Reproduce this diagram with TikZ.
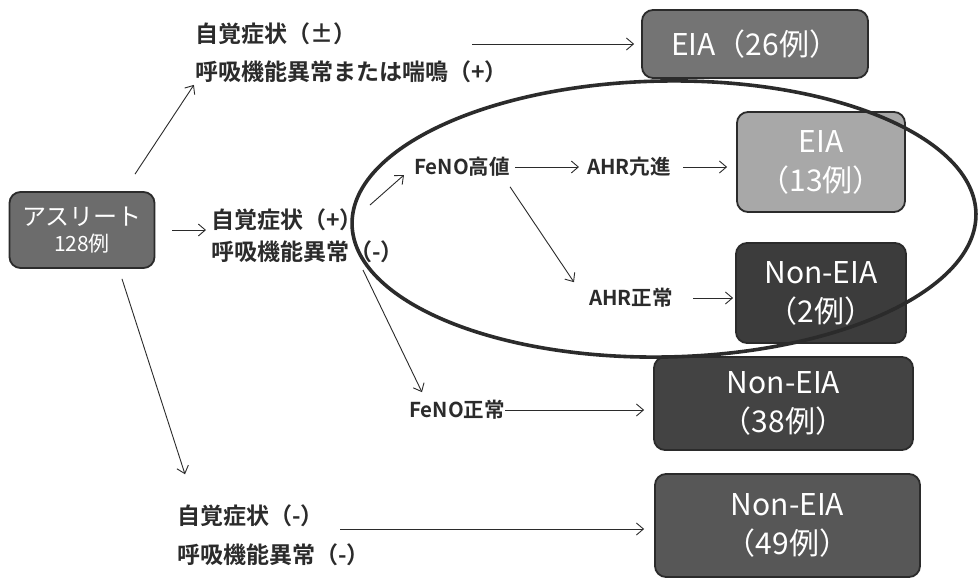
\documentclass[tikz,border=0pt]{standalone}
\usepackage{fontspec}
\setmainfont{Noto Sans CJK JP}[BoldFont={Noto Sans CJK JP Bold}]
\usetikzlibrary{arrows.meta}
\definecolor{ink}{HTML}{2B2B2B}
\definecolor{gath}{HTML}{6C6C6C}
\definecolor{gea}{HTML}{747474}
\definecolor{geb}{HTML}{A8A8A8}
\definecolor{gna}{HTML}{3C3C3C}
\definecolor{gnb}{HTML}{434343}
\definecolor{gnc}{HTML}{575757}
\begin{document}
\begin{tikzpicture}[x=1pt,y=-1pt,
  box/.style={draw=ink, line width=1.8pt, rounded corners=11pt, text=white, align=center, inner sep=0pt, font=\fontsize{30}{39}\selectfont},
  lbl/.style={text=ink, align=left, inner sep=0pt, anchor=west, font=\bfseries\fontsize{23}{40}\selectfont},
  sml/.style={text=ink, inner sep=0pt, anchor=center, font=\bfseries\fontsize{20.5}{24}\selectfont},
  arr/.style={draw=ink, line width=0.9pt, -{Straight Barb[length=7pt,width=12pt]}},
  ring/.style={draw=ink, line width=3.6pt}
]
\fill[white] (0,0) rectangle (978,579);
\useasboundingbox (0,0) rectangle (978,579);

% boxes
\node[box, fill=gath, minimum width=145pt, minimum height=76pt, font=\fontsize{24}{26}\selectfont] (ath) at (82,230) {アスリート\\{\fontsize{21}{26}\selectfont 128例}};
\node[box, fill=gea, minimum width=226pt, minimum height=68pt] (e26) at (755,44) {EIA（26例）};
\node[box, fill=geb, minimum width=168pt, minimum height=100pt] (e13) at (821,162) {EIA\\（13例）};
\node[box, fill=gna, minimum width=170pt, minimum height=100pt] (n2) at (821,293) {Non-EIA\\（2例）};
\node[box, fill=gnb, minimum width=259pt, minimum height=93pt] (n38) at (783.5,403.5) {Non-EIA\\（38例）};
\node[box, fill=gnc, minimum width=265pt, minimum height=103pt] (n49) at (787.5,525.5) {Non-EIA\\（49例）};

% labels
\node[lbl, font=\bfseries\fontsize{23}{38}\selectfont] (top) at (195,53) {自覚症状（±）\\呼吸機能異常または喘鳴（+）};
\node[lbl, font=\bfseries\fontsize{23}{32}\selectfont] (mid) at (211,236) {自覚症状（+）\\呼吸機能異常（-）};
\node[lbl, font=\bfseries\fontsize{23}{39}\selectfont] (bot) at (177,535) {自覚症状（-）\\呼吸機能異常（-）};
\node[sml] (feh) at (462,167) {FeNO高値};
\node[sml] (ahrp) at (629,167) {AHR亢進};
\node[sml] (ahrn) at (631,298) {AHR正常};
\node[sml] (fen) at (457,410) {FeNO正常};

% connectors
\coordinate (t1) at (472,44);
\coordinate (m1) at (370,205);
\coordinate (m2) at (363,270);
\coordinate (b1) at (340,529);
\draw[arr, shorten >=2pt] ([shift={(53,-17)}]ath.north) -- (top.south west);
\draw[arr, shorten <=17pt, shorten >=5pt] (ath.east) -- (ath.east -| mid.west);
\draw[arr] ([shift={(40,10)}]ath.south) -- ([shift={(8,-30)}]bot.north west);
\draw[arr, shorten >=7pt] (t1) -- (t1 -| e26.west);
\draw[arr] (m1) -- ([shift={(-10,8)}]feh.west);
\draw[arr, shorten <=5pt, shorten >=8pt] (feh.east) -- (ahrp.west);
\draw[arr] ([shift={(0,10)}]feh.south east) -- ([shift={(-15,-6)}]ahrn.north west);
\draw[arr, shorten <=12pt, shorten >=9pt] (ahrp.east) -- (ahrp.east -| e13.west);
\draw[arr, shorten <=20pt, shorten >=2pt] (ahrn.east) -- (ahrn.east -| n2.west);
\draw[arr] (m2) -- ([shift={(13,-8)}]fen.north west);
\draw[arr, shorten >=9pt] (fen.east) -- (fen.east -| n38.west);
\draw[arr, shorten >=10pt] (b1) -- (b1 -| n49.west);

% grouping ellipse
\draw[ring, rotate around={1:(664,219)}] (664,219) ellipse [x radius=312pt, y radius=138pt];
\end{tikzpicture}
\end{document}
